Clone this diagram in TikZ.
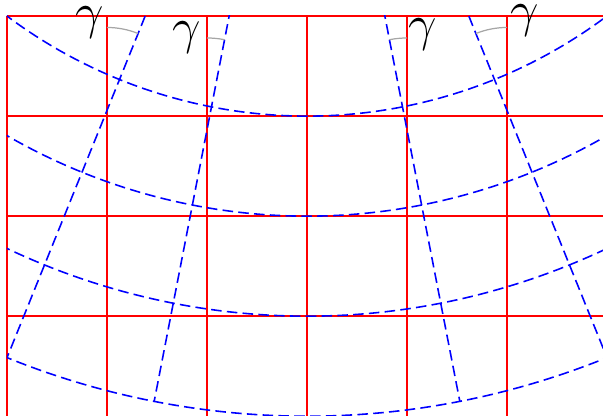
\documentclass[tikz,border=0pt]{standalone}
\begin{document}
\begin{tikzpicture}[
  gridline/.style={red, line width=0.45pt},
  bluedash/.style={blue, line width=0.45pt, dash pattern=on 3pt off 1.5pt},
  anglearc/.style={gray!70, line width=0.35pt},
  glabel/.style={anchor=base, inner sep=0pt, font=\Large}
]
\useasboundingbox (-3.07,0) rectangle (2.96,4.16);
\pgfmathsetmacro{\ta}{asin(3/8)}
\pgfmathsetmacro{\tb}{\ta/2}
% red grid
\foreach \y in {1,2,3,4} \draw[gridline] (-3,\y) -- (3,\y);
\foreach \x in {-3,-2,-1,0,1,2,3} \draw[gridline] (\x,0) -- (\x,4);
% blue dashed arcs and radial lines
\begin{scope}
  \clip (-3,0) rectangle (3,4);
  \coordinate (O) at (0,8);
  \foreach \r in {5,6,7,8}
    \draw[bluedash] ([shift={(200:\r)}]O) arc[start angle=200, end angle=340, radius=\r];
  \foreach \t in {\ta,\tb}{
    \draw[bluedash] ([shift={(-90-\t:4)}]O) -- ([shift={(-90-\t:8)}]O);
    \draw[bluedash] ([shift={(-90+\t:4)}]O) -- ([shift={(-90+\t:8)}]O);
  }
\end{scope}
% angle arcs
\coordinate (P1) at ({-2}, {8-2/tan(\ta)});
\coordinate (P2) at ({-1}, {8-1/tan(\tb)});
\coordinate (P3) at ({1}, {8-1/tan(\tb)});
\coordinate (P4) at ({2}, {8-2/tan(\ta)});
\draw[anglearc] ([shift={(90:0.83)}]P1) arc[start angle=90, end angle={90-\ta}, radius=0.83];
\draw[anglearc] ([shift={(90:0.92)}]P2) arc[start angle=90, end angle={90-\tb}, radius=0.92];
\draw[anglearc] ([shift={(90:0.92)}]P3) arc[start angle=90, end angle={90+\tb}, radius=0.92];
\draw[anglearc] ([shift={(90:0.83)}]P4) arc[start angle=90, end angle={90+\ta}, radius=0.83];
% labels
\node[glabel] (g1) at (-2.17,3.87) {$\gamma$};
\node[glabel] (g2) at (-1.20,3.72) {$\gamma$};
\node[glabel] (g3) at (1.16,3.75) {$\gamma$};
\node[glabel] (g4) at (2.18,3.89) {$\gamma$};
\end{tikzpicture}
\end{document}
